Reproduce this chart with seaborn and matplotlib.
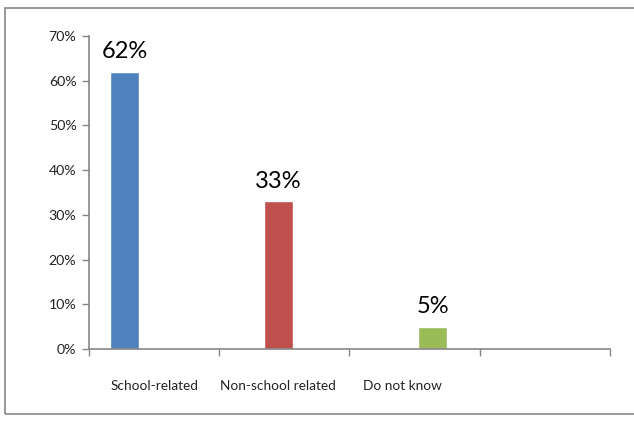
import matplotlib
matplotlib.use("Agg")
import matplotlib.pyplot as plt
import seaborn as sns
import pandas as pd
from matplotlib.patches import Rectangle

categories = ["School-related", "Non-school related", "Do not know"]
values = [0.62, 0.33, 0.05]
value_labels = ["62%", "33%", "5%"]
slot_labels = ["School-related", "Non-school related", "Do not know", ""]
y_ticks = [0.0, 0.1, 0.2, 0.3, 0.4, 0.5, 0.6, 0.7]
y_tick_labels = ["0%", "10%", "20%", "30%", "40%", "50%", "60%", "70%"]
colors = ["#4F81BD", "#C0504D", "#9BBB59"]

sns.set_theme(style="white")
plt.rcParams["font.family"] = ["Lato", "DejaVu Sans"]

W, H = 634, 421
fig = plt.figure(figsize=(W / 100, H / 100), dpi=100)
ax = fig.add_axes([89 / W, 1 - 349 / H, (610 - 89) / W, (349 - 36) / H])

df = pd.DataFrame({"cat": categories, "val": values})
sns.barplot(data=df, x="cat", y="val", hue="cat", palette=colors,
            width=29 / 154, legend=False, ax=ax, saturation=1)

# layout: bar spacing 154px, axis 521px wide, first bar centre 35px from axis start
unit = 154.0
left = -35.5 / unit
right = left + 521.0 / unit
ax.set_xlim(left, right)
ax.set_ylim(0, 0.7)

slot_w = (right - left) / 4
ax.set_xticks([left + k * slot_w for k in range(5)])
ax.set_xticklabels([])
ax.set_xticks([left + (k + 0.5) * slot_w - 0.04 * k for k in range(4)], minor=True)
ax.set_xticklabels(slot_labels, minor=True, fontsize=9.8, color="#222222")
ax.tick_params(axis="x", which="major", length=5, width=1, color="#868686", direction="out", bottom=True)
ax.tick_params(axis="x", which="minor", length=0, pad=22)

ax.set_yticks(y_ticks)
ax.set_yticklabels(y_tick_labels, fontsize=10.2, color="#222222")
ax.tick_params(axis="y", length=5, width=1, color="#868686", direction="out", left=True, pad=4)

for s in ["top", "right"]:
    ax.spines[s].set_visible(False)
for s in ["left", "bottom"]:
    ax.spines[s].set_color("#868686")
    ax.spines[s].set_linewidth(1.2)

ax.set_xlabel("")
ax.set_ylabel("")

for i, (v, lab) in enumerate(zip(values, value_labels)):
    ax.annotate(lab, (i, v), xytext=(0, 7), textcoords="offset points",
                ha="center", va="bottom", fontsize=17, color="black")

fig.patches.append(Rectangle((5 / W, 1 - 414 / H), 1.0, (414 - 8) / H,
                             transform=fig.transFigure, fill=False,
                             edgecolor="#868686", linewidth=1.2))

fig.savefig("out.png", dpi=100)
